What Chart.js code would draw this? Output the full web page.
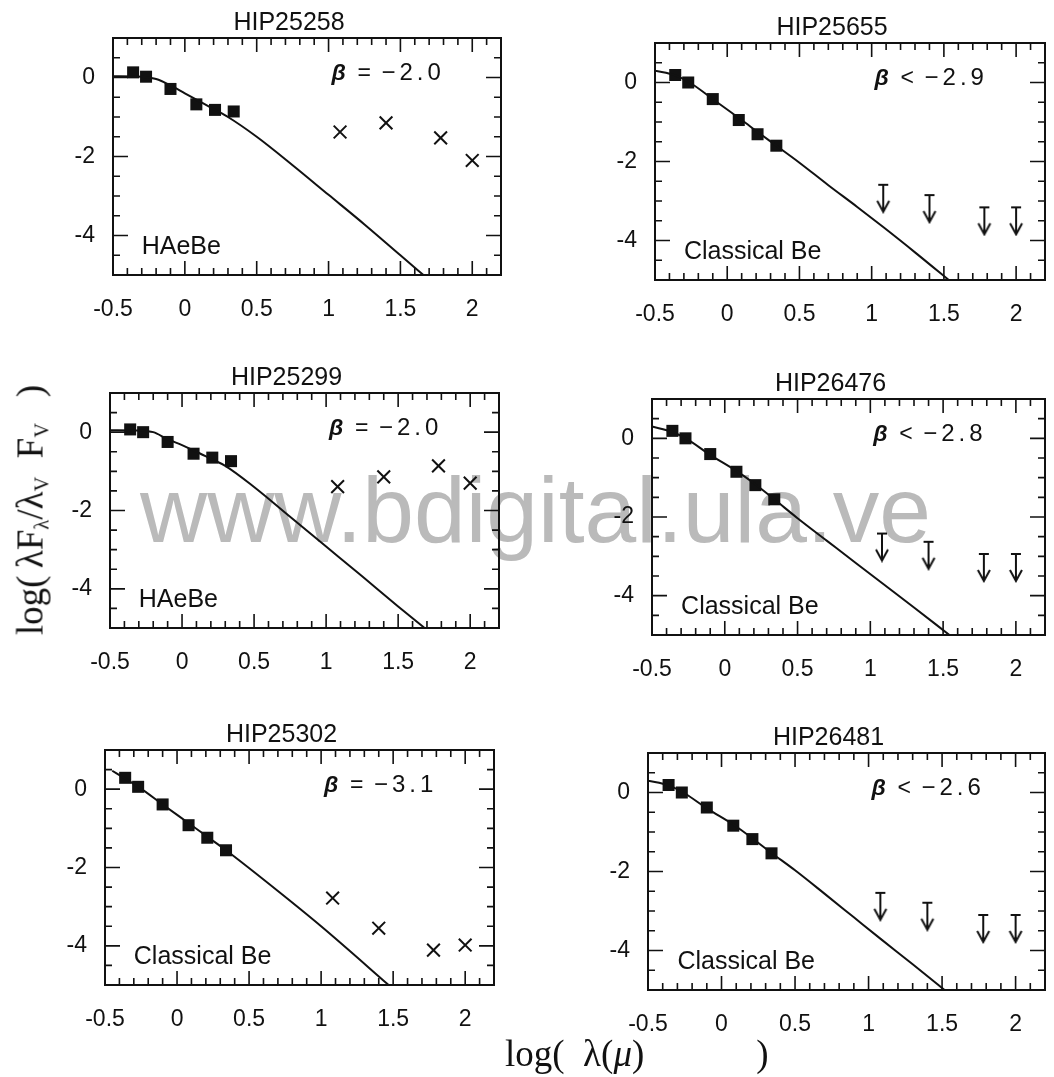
<!DOCTYPE html>
<html>
<head>
<meta charset="utf-8">
<script src="https://cdn.jsdelivr.net/npm/chart.js@4.4.1/dist/chart.umd.min.js"></script>
<style>
  html, body { margin: 0; padding: 0; background: #fff; overflow: hidden; }
  #page { position: relative; width: 1054px; height: 1077px; overflow: hidden; }
  .panel { position: absolute; z-index: 2; }
  #watermark {
    position: absolute; left: 140px; top: 464px; z-index: 1;
    font: 93px "Liberation Sans", Arial, sans-serif; line-height: 1;
    color: #bababa; white-space: nowrap;
  }
  #ylabel {
    position: absolute; left: 30px; top: 510px; z-index: 3;
    transform: translate(-50%, -50%) rotate(-90deg);
    font: 37px "Liberation Serif", serif; white-space: nowrap; color: #111;
  }
  #xlabel {
    position: absolute; left: 505px; top: 1032px; z-index: 3;
    font: 37px "Liberation Serif", serif; white-space: nowrap; color: #111;
  }
  sub { font-size: 0.55em; vertical-align: -0.3em; line-height: 0; }
</style>
</head>
<body>
<div id="page">
  <div id="watermark">www.bdigital.ula.ve</div>
  <div id="ylabel">log(&thinsp;λF<sub>λ</sub>/λ<sub>V</sub>&ensp;F<sub>V</sub>&ensp;&thinsp;)</div>
  <div id="xlabel">log(&ensp;λ(<i>μ</i>)<span style="margin-left:112px">)</span></div>
</div>
<script>
// log(lambda/micron) of B V I J H K and of the IRAS 12/25/60/100 micron bands
const bandX = [-0.36, -0.27, -0.10, 0.08, 0.21, 0.34];
const irasX = [1.08, 1.40, 1.78, 2.00];
const xTicks = [-0.5, 0, 0.5, 1, 1.5, 2];
const yTicks = [-4, -2, 0];

const stars = ['HIP25258', 'HIP25655', 'HIP25299', 'HIP26476', 'HIP25302', 'HIP26481'];
const classes = ['HAeBe', 'Classical Be', 'HAeBe', 'Classical Be', 'Classical Be', 'Classical Be'];
const betaRel = ['=', '<', '=', '<', '=', '<'];
const betaVal = ['−2.0', '−2.9', '−2.0', '−2.8', '−3.1', '−2.6'];
// true = IRAS upper limits (arrows), false = detections (crosses)
const irasLimit = [false, true, false, true, false, true];

// optical / near-IR points (filled squares)
const optHIP25258 = [0.13, 0.02, -0.29, -0.68, -0.82, -0.86];
const optHIP25655 = [0.19, 0.00, -0.42, -0.95, -1.31, -1.60];
const optHIP25299 = [0.07, 0.00, -0.25, -0.55, -0.65, -0.74];
const optHIP26476 = [0.19, 0.00, -0.40, -0.85, -1.19, -1.55];
const optHIP25302 = [0.29, 0.06, -0.39, -0.92, -1.24, -1.56];
const optHIP26481 = [0.19, 0.00, -0.38, -0.84, -1.18, -1.54];

// IRAS points
const irasHIP25258 = [-1.38, -1.15, -1.53, -2.10];
const irasHIP25655 = [-2.59, -2.85, -3.16, -3.16];
const irasHIP25299 = [-1.39, -1.14, -0.86, -1.30];
const irasHIP26476 = [-2.42, -2.63, -2.94, -2.94];
const irasHIP25302 = [-2.78, -3.55, -4.11, -3.98];
const irasHIP26481 = [-2.54, -2.79, -3.10, -3.10];

// photosphere curves
const modelXHAeBe = [-0.5, -0.3, -0.2, -0.1, 0, 0.1, 0.2, 0.3, 0.5, 0.75, 1.0, 1.25, 1.5, 1.75];
const modelHIP25258 = [0.03, 0.02, -0.04, -0.20, -0.40, -0.60, -0.80, -1.00, -1.50, -2.22, -2.97, -3.72, -4.50, -5.28];
const modelHIP25299 = [0.05, 0.04, 0.00, -0.18, -0.33, -0.50, -0.68, -0.86, -1.40, -2.16, -2.92, -3.68, -4.45, -5.20];
const modelXBe = [-0.5, -0.36, -0.26, -0.1, 0.1, 0.22, 0.34, 0.5, 0.7, 0.9, 1.08, 1.3, 1.55, 1.7];
const modelHIP25655 = [0.30, 0.18, 0.00, -0.42, -0.95, -1.28, -1.60, -2.03, -2.60, -3.15, -3.66, -4.30, -5.05, -5.50];
const modelHIP26476 = [0.30, 0.16, -0.02, -0.42, -0.88, -1.20, -1.55, -2.03, -2.60, -3.17, -3.68, -4.30, -5.02, -5.45];
const modelHIP26481 = [0.30, 0.18, 0.00, -0.40, -0.86, -1.19, -1.53, -1.97, -2.56, -3.16, -3.70, -4.35, -5.10, -5.55];
const modelXHIP25302 = [-0.45, -0.36, -0.26, -0.1, 0.1, 0.22, 0.34, 0.7, 1.0, 1.5];
const modelHIP25302 = [0.47, 0.27, 0.04, -0.39, -0.92, -1.24, -1.56, -2.60, -3.50, -5.10];

const optical = [optHIP25258, optHIP25655, optHIP25299, optHIP26476, optHIP25302, optHIP26481];
const iras = [irasHIP25258, irasHIP25655, irasHIP25299, irasHIP26476, irasHIP25302, irasHIP26481];
const modelX = [modelXHAeBe, modelXBe, modelXHAeBe, modelXBe, modelXHIP25302, modelXBe];
const modelY = [modelHIP25258, modelHIP25655, modelHIP25299, modelHIP26476, modelHIP25302, modelHIP26481];

// plot frames on the page (left, top, right, bottom)
const boxes = [
  [113, 38, 510, 275], [655, 43, 1052, 280],
  [110, 393, 508, 628], [652, 399, 1052, 635],
  [105, 750, 503, 985], [648, 753, 1052, 990]
];

const ink = '#111';
const tickFont = { family: '"Liberation Sans", Arial, sans-serif', size: 23 };

function pairs(xs, ys) {
  return xs.map((x, i) => ({ x: x, y: ys[i] }));
}

// upper limit symbol: bar at the value, arrow pointing down
function makeArrow() {
  const L = 27;
  const c = document.createElement('canvas');
  c.width = 16; c.height = 2 * L + 4;
  const g = c.getContext('2d');
  const cx = 8, cy = c.height / 2;
  g.strokeStyle = ink; g.lineWidth = 2;
  g.beginPath();
  g.moveTo(cx - 5, cy); g.lineTo(cx + 5, cy);
  g.moveTo(cx, cy); g.lineTo(cx, cy + L - 1);
  g.moveTo(cx - 6, cy + L - 11); g.lineTo(cx, cy + L); g.lineTo(cx + 6, cy + L - 11);
  g.stroke();
  return c;
}
const arrowImg = makeArrow();

// box with inward ticks on all four sides
const framePlugin = {
  id: 'frame',
  afterDatasetsDraw(chart) {
    const { ctx, chartArea: a, scales: { x, y } } = chart;
    ctx.save();
    ctx.strokeStyle = ink;
    ctx.lineWidth = 1.6;
    ctx.beginPath();
    for (let k = -5; k <= 22; k++) {
      const px = x.getPixelForValue(k / 10);
      if (px < a.left + 2 || px > a.right - 2) continue;
      const len = k % 5 === 0 ? 14 : 7;
      ctx.moveTo(px, a.bottom); ctx.lineTo(px, a.bottom - len);
      ctx.moveTo(px, a.top); ctx.lineTo(px, a.top + len);
    }
    for (let k = -10; k <= 2; k++) {
      const v = k / 2;
      const py = y.getPixelForValue(v);
      if (py < a.top + 2 || py > a.bottom - 2) continue;
      const len = v % 2 === 0 ? 15 : 7;
      ctx.moveTo(a.left, py); ctx.lineTo(a.left + len, py);
      ctx.moveTo(a.right, py); ctx.lineTo(a.right - len, py);
    }
    ctx.stroke();
    ctx.lineWidth = 2;
    ctx.strokeRect(a.left, a.top, a.right - a.left, a.bottom - a.top);
    ctx.restore();
  }
};

// star name, beta and object class
const textPlugin = {
  id: 'panelText',
  afterDraw(chart, args, opts) {
    const { ctx, chartArea: a, scales: { x, y } } = chart;
    ctx.save();
    ctx.fillStyle = ink;
    ctx.textBaseline = 'middle';
    ctx.textAlign = 'center';
    ctx.font = '25px "Liberation Sans", Arial, sans-serif';
    ctx.fillText(opts.title, (a.left + a.right) / 2 - 18, a.top - 15);

    ctx.textAlign = 'left';
    const bx = x.getPixelForValue(1.02), by = y.getPixelForValue(0.1);
    ctx.font = 'italic bold 23px "Liberation Sans", Arial, sans-serif';
    ctx.fillText('β', bx, by);
    ctx.font = '23px "Liberation Sans", Arial, sans-serif';
    ctx.fillText(opts.rel, bx + 26, by);
    ctx.font = '24px "Liberation Sans", Arial, sans-serif';
    ctx.letterSpacing = '4px';
    ctx.fillText(opts.beta, bx + 50, by);
    ctx.letterSpacing = '0px';

    ctx.font = '25px "Liberation Sans", Arial, sans-serif';
    ctx.fillText(opts.cls, x.getPixelForValue(-0.3), y.getPixelForValue(-4.3));
    ctx.restore();
  }
};

const page = document.getElementById('page');
const padL = 62, padT = 40, padR = 2, padB = 52;

stars.forEach((star, i) => {
  const [l, t, r, b] = boxes[i];
  const w = r - l + padL + padR, h = b - t + padT + padB;
  const holder = document.createElement('div');
  holder.className = 'panel';
  holder.style.left = (l - padL) + 'px';
  holder.style.top = (t - padT) + 'px';
  holder.style.width = w + 'px';
  holder.style.height = h + 'px';
  const canvas = document.createElement('canvas');
  canvas.width = w; canvas.height = h;
  holder.appendChild(canvas);
  page.appendChild(holder);

  const irasSet = irasLimit[i]
    ? { data: pairs(irasX, iras[i]), pointStyle: arrowImg, pointRadius: 8 }
    : { data: pairs(irasX, iras[i]), pointStyle: 'crossRot', pointRadius: 9,
        borderColor: ink, borderWidth: 2 };

  new Chart(canvas, {
    type: 'scatter',
    data: {
      datasets: [
        {
          data: pairs(modelX[i], modelY[i]),
          showLine: true, borderColor: ink, borderWidth: 2,
          pointRadius: 0, cubicInterpolationMode: 'monotone'
        },
        {
          data: pairs(bandX, optical[i]),
          pointStyle: 'rect', pointRadius: 8.5,
          backgroundColor: ink, borderWidth: 0
        },
        irasSet
      ]
    },
    options: {
      responsive: false,
      animation: false,
      events: [],
      layout: { padding: { left: 0, top: padT, right: padR, bottom: 0 } },
      plugins: {
        legend: { display: false },
        tooltip: { enabled: false },
        panelText: { title: star, rel: betaRel[i], beta: betaVal[i], cls: classes[i] }
      },
      scales: {
        x: {
          type: 'linear', min: -0.5, max: 2.2,
          afterFit: s => { s.height = padB; },
          afterBuildTicks: s => { s.ticks = xTicks.map(v => ({ value: v })); },
          grid: { display: false, drawTicks: false }, border: { display: false },
          ticks: {
            font: tickFont, color: ink, padding: 21,
            maxRotation: 0, autoSkip: false,
            callback: v => String(v)
          }
        },
        y: {
          type: 'linear', min: -5, max: 1,
          afterFit: s => { s.width = padL; },
          afterBuildTicks: s => { s.ticks = yTicks.map(v => ({ value: v })); },
          grid: { display: false, drawTicks: false }, border: { display: false },
          ticks: {
            font: tickFont, color: ink, padding: 18,
            autoSkip: false,
            callback: v => String(v)
          }
        }
      }
    },
    plugins: [framePlugin, textPlugin]
  });
});
</script>
</body>
</html>
